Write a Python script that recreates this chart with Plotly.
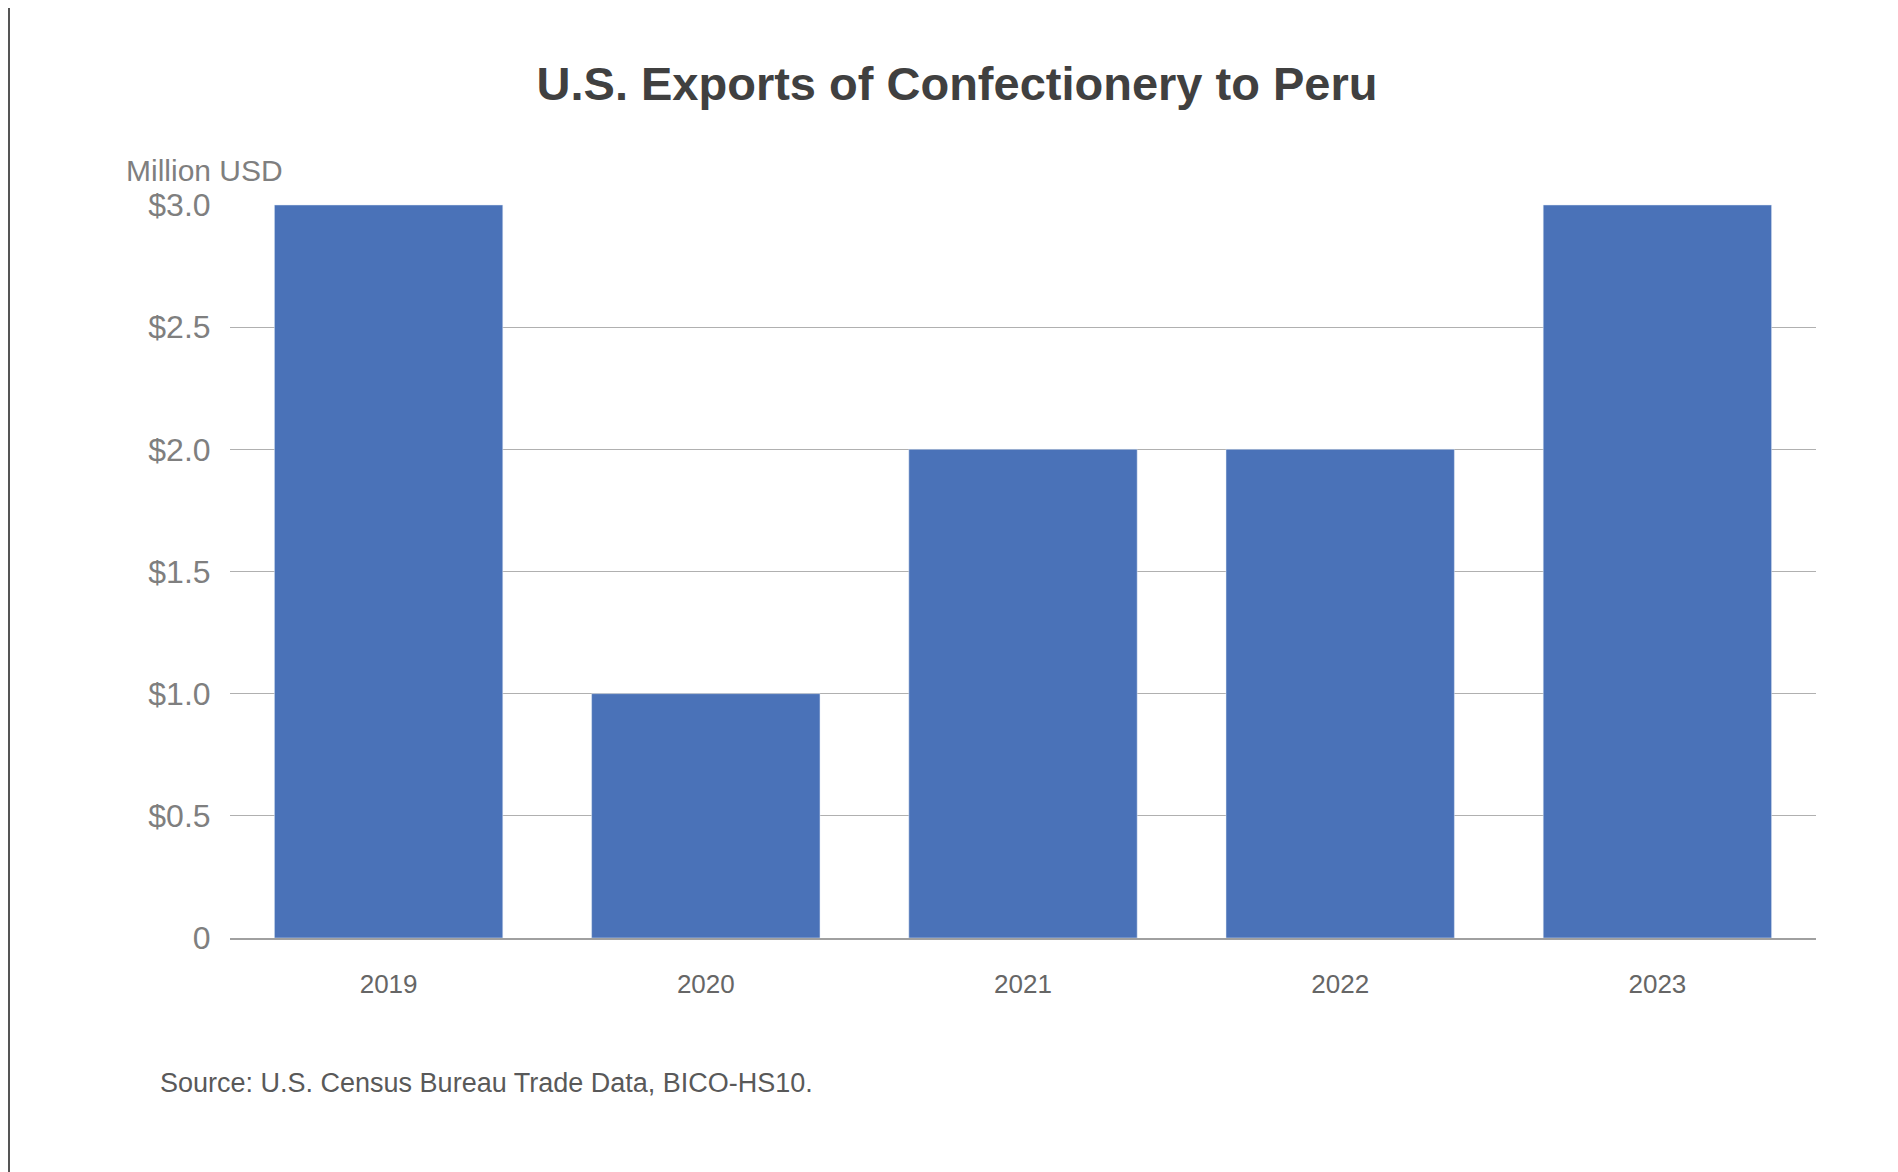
import plotly.graph_objects as go

years = ["2019", "2020", "2021", "2022", "2023"]
exports = [3.0, 1.0, 2.0, 2.0, 3.0]
tick_vals = [0, 0.5, 1.0, 1.5, 2.0, 2.5, 3.0]
tick_text = ["0", "$0.5", "$1.0", "$1.5", "$2.0", "$2.5", "$3.0"]

W, H = 1898, 1172
L, R, T, B = 222, 90, 196, 242

fig = go.Figure()
fig.add_trace(go.Bar(x=years, y=exports, marker_color="#4A72B8", width=0.72))

pw, ph = W - L - R, H - T - B
# left and bottom frame lines only
fig.add_shape(type="line", xref="paper", yref="paper",
              x0=-(L - 1) / pw, x1=-(L - 1) / pw, y0=-(B - 1) / ph, y1=1 + T / ph,
              line=dict(color="#555555", width=2), layer="above")
fig.add_shape(type="line", xref="paper", yref="paper",
              x0=-L / pw, x1=(W - L) / pw, y0=-(B - 1) / ph, y1=-(B - 1) / ph,
              line=dict(color="#555555", width=2), layer="above")

fig.update_layout(
    width=W, height=H,
    margin=dict(l=L, r=R, t=T, b=B),
    plot_bgcolor="white", paper_bgcolor="white",
    font=dict(family="Liberation Sans, Arial", color="#7f7f7f"),
    title=dict(text="<b>U.S. Exports of Confectionery to Peru</b>", x=0.5, xanchor="center",
               y=1 - 76 / H, yanchor="middle", font=dict(size=47, color="#404040")),
    showlegend=False,
    xaxis=dict(showgrid=False, showline=True, linecolor="#a0a0a0", linewidth=1.5,
               tickfont=dict(size=26, color="#666666"), ticks="", ticklabelstandoff=22),
    yaxis=dict(range=[0, 3.004], tickvals=tick_vals, ticktext=tick_text,
               gridcolor="#b0b0b0", gridwidth=1.2, zeroline=False,
               tickfont=dict(size=32, color="#7f7f7f"), ticks="outside",
               ticklen=12, tickcolor="white"),
    annotations=[
        dict(text="Million USD", xref="paper", yref="paper", x=-(L - 116) / pw, y=1 + (T - 163) / ph,
             xanchor="left", yanchor="middle", showarrow=False, font=dict(size=30, color="#7f7f7f")),
        dict(text="Source: U.S. Census Bureau Trade Data, BICO-HS10.", xref="paper", yref="paper",
             x=-(L - 150) / pw, y=-(1075 - (H - B)) / ph, xanchor="left", yanchor="middle",
             showarrow=False, font=dict(size=27, color="#595959")),
    ],
)
fig.write_html("out.html")
